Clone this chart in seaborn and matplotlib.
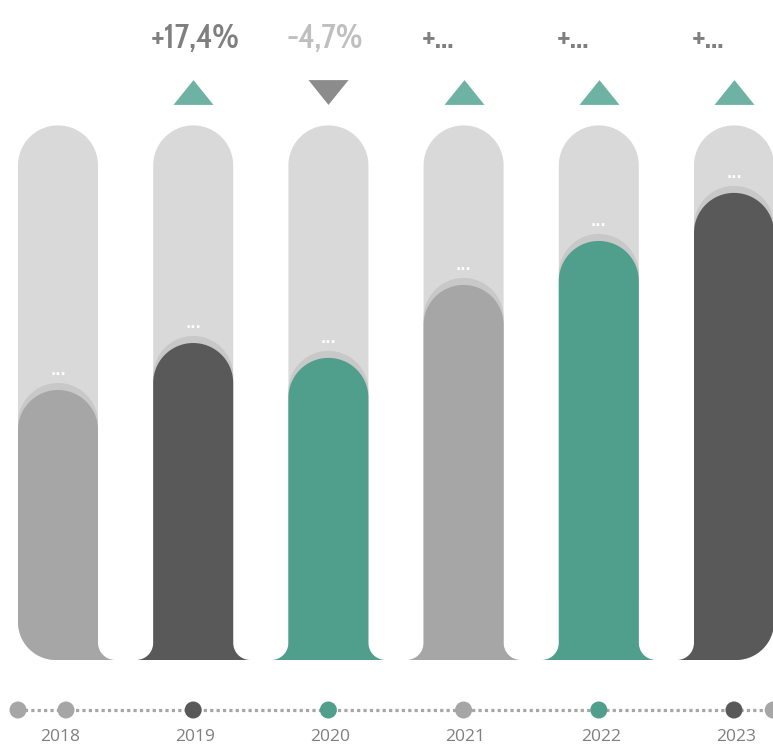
import numpy as np
import matplotlib
matplotlib.use("Agg")
import matplotlib.pyplot as plt
import seaborn as sns
import pandas as pd
from matplotlib.path import Path
from matplotlib.patches import PathPatch
from matplotlib import font_manager
from matplotlib.font_manager import FontProperties
from matplotlib.textpath import TextPath

# ---------------- data ----------------
years = ["2018", "2019", "2020", "2021", "2022", "2023"]
values = [100.0, 117.4, 111.9, 138.9, 155.2, 173.0]
capacity = [198.0, 198.0, 198.0, 198.0, 198.0, 198.0]
bar_colors = ["#a6a6a6", "#595959", "#4f9f8c", "#a6a6a6", "#4f9f8c", "#595959"]
value_labels = ["...", "...", "...", "...", "...", "..."]
change_labels = ["", "+17,4%", "-4,7%", "+...", "+...", "+..."]
change_colors = ["#7f7f7f", "#7f7f7f", "#bfbfbf", "#7f7f7f", "#7f7f7f", "#7f7f7f"]
change_dir = [0, 1, -1, 1, 1, 1]
timeline_pos = [-0.296, 0.059, 1.0, 2.0, 3.0, 4.0, 5.0, 5.29]
timeline_colors = ["#a6a6a6", "#a6a6a6", "#595959", "#4f9f8c", "#a6a6a6",
                   "#4f9f8c", "#595959", "#a6a6a6"]

# ---------------- layout ----------------
W, H, DPI = 773, 747, 100
x0_px, step_px = 58.0, 135.2        # first bar centre, bar spacing (px)
base_px, px_per_unit = 660.0, 2.7   # baseline row (px from top), px per value unit
ux = 1.0 / step_px                  # data x-units per pixel
uy = 1.0 / px_per_unit              # data y-units per pixel


def py(px_from_top):
    return (base_px - px_from_top) * uy


sns.set_theme(style="white")
avail = {f.name for f in font_manager.fontManager.ttflist}
year_font = "Open Sans" if "Open Sans" in avail else "DejaVu Sans"

# choose the narrowest bold-ish condensed face for the change labels
TARGET_RATIO = 86.0 / 24.0     # width of "+17,4%" / digit height in reference
CAP_PX = 24.0
best = None
for f in font_manager.fontManager.ttflist:
    key = (f.fname + " " + f.name).lower()
    if "oblique" in key or "italic" in key:
        continue
    w = f.weight if isinstance(f.weight, int) else (700 if str(f.weight).lower() == "bold" else 400)
    if w < 500 and "bold" not in key and "semibold" not in key:
        continue
    try:
        prop = FontProperties(fname=f.fname, size=100)
        cap = TextPath((0, 0), "174", prop=prop).get_extents().height
        wid = TextPath((0, 0), "+17,4%", prop=prop).get_extents().width
    except Exception:
        continue
    if cap <= 0:
        continue
    ratio = wid / cap
    score = abs(ratio - TARGET_RATIO)
    if best is None or score < best[0]:
        best = (score, f.fname, cap / 100.0)

if best is not None:
    size_pt = CAP_PX / best[2] * 72.0 / DPI
    cond_prop = FontProperties(fname=best[1], size=size_pt)
else:
    cond_prop = FontProperties(family="DejaVu Sans", weight="bold", size=17)

fig = plt.figure(figsize=(W / DPI, H / DPI), dpi=DPI)
ax = fig.add_axes([0, 0, 1, 1])

df = pd.DataFrame({"year": years, "value": values, "capacity": capacity})
bar_w = 80 * ux

sns.barplot(data=df, x="year", y="capacity", hue="year", palette=["#d9d9d9"] * 6,
            legend=False, width=bar_w, saturation=1, ax=ax)
bg_patches = list(ax.patches)
sns.barplot(data=df, x="year", y="value", hue="year", palette=bar_colors,
            legend=False, width=bar_w, saturation=1, ax=ax)
fg_patches = [p for p in ax.patches if p not in bg_patches]

ax.set_xlim(-x0_px / step_px, (W - x0_px) / step_px)
ax.set_ylim(-(H - base_px) * uy, base_px * uy)
ax.axis("off")

RY = 40 * uy                 # vertical radius of rounded top
FX, FY = 17 * ux, 17 * uy    # flare fillet
CX, CY = 38 * ux, 38 * uy    # convex outer corner


def arc(cx, cy, rx, ry, a0, a1, n=40):
    t = np.radians(np.linspace(a0, a1, n))
    return list(zip(cx + rx * np.cos(t), cy + ry * np.sin(t)))


def shape(L, R, top, bottom, left_style, right_style):
    pts = []
    if left_style == "round":
        pts += arc(L + CX, bottom + CY, CX, CY, 270, 180)
    elif left_style == "flare":
        pts += arc(L - FX, bottom + FY, FX, FY, 270, 360)
    else:
        pts.append((L, bottom))
    rx = (R - L) / 2
    pts += arc(L + rx, top - RY, rx, RY, 180, 0, 80)
    if right_style == "round":
        pts += arc(R - CX, bottom + CY, CX, CY, 0, -90)
    elif right_style == "flare":
        pts += arc(R + FX, bottom + FY, FX, FY, 180, 270)
    else:
        pts.append((R, bottom))
    pts.append(pts[0])
    codes = [Path.MOVETO] + [Path.LINETO] * (len(pts) - 2) + [Path.CLOSEPOLY]
    return Path(pts, codes)


bg_sorted = sorted(bg_patches, key=lambda p: p.get_x())
fg_sorted = sorted(fg_patches, key=lambda p: p.get_x())
n = len(fg_sorted)
for i, (bp, fp) in enumerate(zip(bg_sorted, fg_sorted)):
    L, wdt = bp.get_x(), bp.get_width()
    R = L + wdt
    ax.add_patch(PathPatch(shape(L, R, bp.get_height(), 60 * uy, "flat", "flat"),
                           facecolor="#d9d9d9", edgecolor="none", zorder=1))
    ls = "round" if i == 0 else "flare"
    rs = "round" if i == n - 1 else "flare"
    top = fp.get_height()
    col = fp.get_facecolor()
    ax.add_patch(PathPatch(shape(L, R, top + 7 * uy, 0, ls, rs),
                           facecolor="#c8c8c8", edgecolor="none", zorder=2))
    ax.add_patch(PathPatch(shape(L, R, top, 0, ls, rs),
                           facecolor=col, edgecolor="none", zorder=3))
    cx = L + wdt / 2
    ax.text(cx, top + 19 * uy, value_labels[i], color="white", fontsize=10,
            fontweight="bold", ha="center", va="center", zorder=5)
    bp.remove()
    fp.remove()

# change labels and triangles
tri_up = Path([(-1, -0.62), (1, -0.62), (0, 0.62), (-1, -0.62)],
              [Path.MOVETO, Path.LINETO, Path.LINETO, Path.CLOSEPOLY])
tri_dn = Path([(-1, 0.62), (1, 0.62), (0, -0.62), (-1, 0.62)],
              [Path.MOVETO, Path.LINETO, Path.LINETO, Path.CLOSEPOLY])
for i, lab in enumerate(change_labels):
    if not lab:
        continue
    ax.text(i - 42 * ux, py(48), lab, color=change_colors[i],
            fontproperties=cond_prop, ha="left", va="baseline", zorder=5)
    if change_dir[i] != 0:
        ax.scatter([i], [py(92)], marker=tri_up if change_dir[i] > 0 else tri_dn,
                   s=(40 * 0.72) ** 2,
                   color="#6db2a3" if change_dir[i] > 0 else "#8c8c8c",
                   linewidths=0, zorder=5)

# timeline
ty = py(710)
ax.plot([timeline_pos[0], timeline_pos[-1]], [ty, ty], color="#a6a6a6",
        linewidth=2.3, linestyle=(0, (1, 1)), zorder=4)
sns.scatterplot(x=timeline_pos, y=[ty] * len(timeline_pos),
                hue=list(range(len(timeline_pos))),
                palette=timeline_colors, s=150, linewidth=0, legend=False, ax=ax, zorder=5)
for i, y in enumerate(years):
    ax.text(i + 2 * ux, py(737), y, color="#7f7f7f", fontsize=12.5,
            family=[year_font, "DejaVu Sans"], ha="center", va="center", zorder=5)

ax.set_xlim(-x0_px / step_px, (W - x0_px) / step_px)
ax.set_ylim(-(H - base_px) * uy, base_px * uy)
fig.savefig("out.png", dpi=DPI)
